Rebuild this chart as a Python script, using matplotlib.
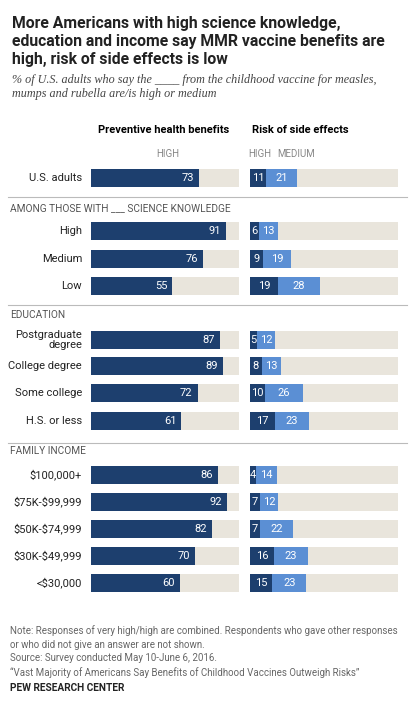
import matplotlib
matplotlib.use("Agg")
import matplotlib.pyplot as plt
plt.rcParams["text.parse_math"] = False

labels = ["U.S. adults", "High", "Medium", "Low", "Postgraduate\ndegree", "College degree",
          "Some college", "H.S. or less", "$100,000+", "$75K-$99,999", "$50K-$74,999",
          "$30K-$49,999", "<$30,000"]
benefits = [73, 91, 76, 55, 87, 89, 72, 61, 86, 92, 82, 70, 60]
risk_high = [11, 6, 9, 19, 5, 8, 10, 17, 4, 7, 7, 16, 15]
risk_med = [21, 13, 19, 28, 12, 13, 26, 23, 14, 12, 22, 23, 23]
sections = ["AMONG THOSE WITH ___ SCIENCE KNOWLEDGE", "EDUCATION", "FAMILY INCOME"]

rows_y = [178, 231, 259, 286, 340, 366, 393, 421, 475, 502, 529, 556, 583]
sec_y = [208, 315, 451]
line_y = [197, 305, 443]

DARK = "#1d3f6e"; LIGHT = "#5b8fd4"; BG = "#e9e5dc"; GRAY = "#666666"
fig = plt.figure(figsize=(4.15, 7.10), dpi=100)
ax = fig.add_axes([0, 0, 1, 1])
ax.set_xlim(0, 415); ax.set_ylim(710, 0); ax.axis("off")
S = 1.48; L0 = 91; R0 = 250; H = 18

fs = dict(family="Roboto")
ax.text(12, 16, "More Americans with high science knowledge,\neducation and income say MMR vaccine benefits are\nhigh, risk of side effects is low",
        fontsize=11.3, fontweight="bold", va="top", linespacing=1.25, color="#222222", **fs)
ax.text(12, 74, "% of U.S. adults who say the ____ from the childhood vaccine for measles,\nmumps and rubella are/is high or medium",
        fontsize=8.7, style="italic", family="Liberation Serif", va="top", color="#444444", linespacing=1.2)
ax.text(164, 130, "Preventive health benefits", fontsize=8, fontweight="bold", ha="center", va="center", **fs)
ax.text(300, 130, "Risk of side effects", fontsize=8, fontweight="bold", ha="center", va="center", **fs)
ax.text(168, 154, "HIGH", fontsize=7, color="#888888", ha="center", va="center", **fs)
ax.text(248, 154, "HIGH", fontsize=7, color="#888888", ha="left", va="center", **fs)
ax.text(277, 154, "MEDIUM", fontsize=7, color="#888888", ha="left", va="center", **fs)

for ly in line_y:
    ax.plot([8, 407], [ly, ly], color="#bbbbbb", lw=0.8)
for s, sy in zip(sections, sec_y):
    ax.text(10, sy, s, fontsize=7.3, color="#555555", va="center", **fs)

for lab, y, b, h, m in zip(labels, rows_y, benefits, risk_high, risk_med):
    ax.text(82, y, lab, fontsize=8, ha="right", va="center", color="#222222", linespacing=1.1, **fs)
    ax.barh(y, 100 * S, left=L0, height=H, color=BG)
    ax.barh(y, b * S, left=L0, height=H, color=DARK)
    ax.text(L0 + b * S - 5, y, str(b), fontsize=8, color="white", ha="right", va="center", **fs)
    ax.barh(y, 100 * S, left=R0, height=H, color=BG)
    ax.barh(y, h * S, left=R0, height=H, color=DARK)
    ax.barh(y, m * S, left=R0 + h * S, height=H, color=LIGHT)
    ax.text(R0 + h * S / 2, y, str(h), fontsize=8, color="white", ha="center", va="center", **fs)
    ax.text(R0 + h * S + m * S / 2, y, str(m), fontsize=8, color="white", ha="center", va="center", **fs)

notes = ["Note: Responses of very high/high are combined. Respondents who gave other responses",
         "or who did not give an answer are not shown.",
         "Source: Survey conducted May 10-June 6, 2016.",
         "\u201cVast Majority of Americans Say Benefits of Childhood Vaccines Outweigh Risks\u201d"]
for i, n in enumerate(notes):
    ax.text(10, 631 + i * 13.7, n, fontsize=7, color="#666666", va="center", **fs)
ax.text(10, 688, "PEW RESEARCH CENTER", fontsize=7.3, fontweight="bold", color="#222222", va="center", **fs)

fig.savefig("out.png", dpi=100, facecolor="white")
